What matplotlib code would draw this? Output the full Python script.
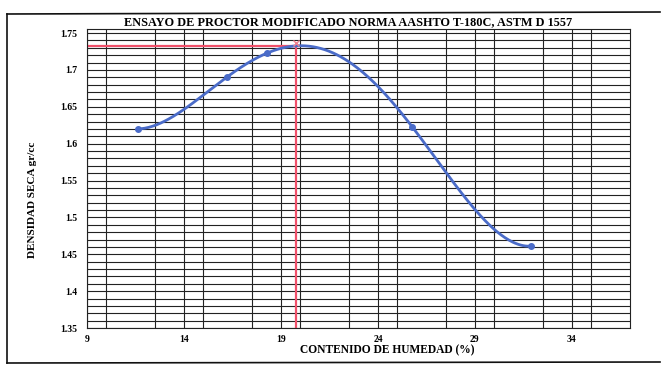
import numpy as np
import matplotlib
matplotlib.use("Agg")
import matplotlib.pyplot as plt
from matplotlib.ticker import MultipleLocator, FixedLocator, FuncFormatter

# Compaction test results
humedad = [11.65, 16.2, 18.3, 25.78, 31.9]          # moisture content (%)
densidad = [1.620, 1.690, 1.723, 1.6225, 1.461]     # dry density (g/cc)
humedad_optima = 19.8
densidad_maxima = 1.733

x_ticks = [9, 14, 19, 24, 29, 34]
y_ticks = [1.35, 1.4, 1.45, 1.5, 1.55, 1.6, 1.65, 1.7, 1.75]

serif = "Liberation Serif"
blue = "#4a6bc8"
red = "#f0506a"

fig = plt.figure(figsize=(6.64, 3.67), dpi=100)
ax = fig.add_axes([87 / 664, 1 - 328 / 367, (630 - 87) / 664, (328 - 29) / 367])

ax.set_xlim(9, 37)
ax.set_ylim(1.35, 1.7555)

ax.xaxis.set_major_locator(FixedLocator(x_ticks))
ax.xaxis.set_minor_locator(MultipleLocator(2.5))
ax.yaxis.set_major_locator(FixedLocator(y_ticks))
ax.yaxis.set_minor_locator(MultipleLocator(0.01))
ax.yaxis.set_major_formatter(FuncFormatter(lambda v, p: f"{v:g}"))

ax.grid(True, which="both", color="#222222", linewidth=0.8)
ax.set_axisbelow(True)
ax.tick_params(which="both", length=0)
ax.tick_params(axis="x", pad=5)
ax.tick_params(axis="y", pad=7)
for lab in ax.get_xticklabels() + ax.get_yticklabels():
    lab.set_fontfamily(serif)
    lab.set_fontweight("bold")
    lab.set_fontsize(7)
for s in ax.spines.values():
    s.set_color("#222222")
    s.set_linewidth(0.8)

# Smooth curve through the measured points
coef = np.polyfit(humedad, densidad, len(humedad) - 1)
xs = np.linspace(humedad[0], humedad[-1], 300)
ax.plot(xs, np.polyval(coef, xs), color=blue, linewidth=2, zorder=3)
ax.plot(humedad, densidad, "o", color=blue, markersize=4, zorder=4)

# Optimum moisture / maximum dry density guides
ax.plot([9, humedad_optima], [densidad_maxima, densidad_maxima], color=red, linewidth=1.6, zorder=2)
ax.plot([humedad_optima, humedad_optima], [1.35, densidad_maxima], color=red, linewidth=1.6, zorder=2)
ax.plot([humedad_optima], [densidad_maxima + 0.004], "x", color="#f08090", markersize=4, zorder=5)

ax.set_title("ENSAYO DE PROCTOR MODIFICADO NORMA AASHTO T-180C, ASTM D 1557",
             fontfamily=serif, fontweight="bold", fontsize=8.8, pad=3, x=0.48)
ax.set_xlabel("CONTENIDO DE HUMEDAD (%)", fontfamily=serif, fontweight="bold", fontsize=8.3)
ax.xaxis.set_label_coords(0.553, -0.055)
ax.set_ylabel("DENSIDAD SECA gr/cc", fontfamily=serif, fontweight="bold", fontsize=8)
ax.yaxis.set_label_coords(-0.092, 0.43)

# Outer frame of the chart
frame_kw = dict(color="#111111", linewidth=1.2, transform=fig.transFigure)
fig.add_artist(plt.Line2D([7 / 664, 7 / 664], [1 - 363 / 367, 1 - 14 / 367], **frame_kw))
fig.add_artist(plt.Line2D([7 / 664, 660 / 664], [1 - 14 / 367, 1 - 12 / 367], **frame_kw))
fig.add_artist(plt.Line2D([7 / 664, 660 / 664], [1 - 363 / 367, 1 - 362 / 367], **frame_kw))

fig.savefig("out.png", dpi=100)
